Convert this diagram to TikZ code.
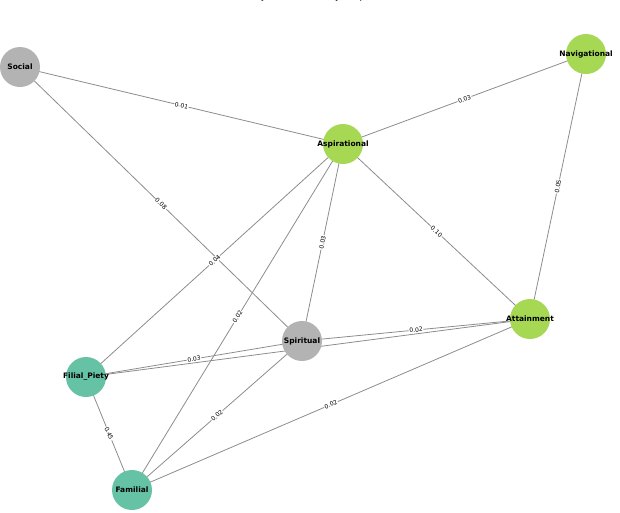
\documentclass[tikz,border=0pt]{standalone}
\usepackage{fontspec}
\setmainfont{DejaVu Sans}
\begin{document}
\begin{tikzpicture}[x=1pt,y=-1pt,
  nd/.style={circle,minimum size=40pt,inner sep=0pt,draw=none},
  gn/.style={nd,fill={rgb,255:red,166;green,216;blue,84}},
  tn/.style={nd,fill={rgb,255:red,102;green,194;blue,165}},
  yn/.style={nd,fill={rgb,255:red,179;green,179;blue,179}},
  tx/.style={font=\bfseries\fontsize{7.5}{8}\selectfont,inner sep=0pt},
  ed/.style={draw={rgb,255:red,140;green,140;blue,140},line width=0.8pt},
  lb/.style={midway,sloped,fill=white,inner sep=0.6pt,font=\fontsize{6}{6}\selectfont}]
\useasboundingbox (0,0) rectangle (620,512);
\node[font=\fontsize{9}{10}\selectfont] (title) at (303,-3) {Label Jaccard Similarity Graph};
\coordinate (soc) at (20,67);
\coordinate (nav) at (586,54);
\coordinate (asp) at (343,144);
\coordinate (att) at (530,319);
\coordinate (spi) at (302,341);
\coordinate (fil) at (86,377);
\coordinate (fam) at (132,490);
\draw[ed] (soc) -- node[lb]{0.01} (asp);
\draw[ed] (asp) -- node[lb]{0.03} (nav);
\draw[ed] (soc) -- node[lb]{0.08} (spi);
\draw[ed] (asp) -- node[lb]{0.04} (fil);
\draw[ed] (asp) -- node[lb]{0.02} (fam);
\draw[ed] (asp) -- node[lb]{0.03} (spi);
\draw[ed] (asp) -- node[lb]{0.10} (att);
\draw[ed] (nav) -- node[lb]{0.05} (att);
\draw[ed] (fil) -- (att);
\draw[ed] (fil) -- node[lb]{0.03} (spi);
\draw[ed] (spi) -- node[lb]{0.02} (att);
\draw[ed] (fil) -- node[lb]{0.45} (fam);
\draw[ed] (spi) -- node[lb]{0.02} (fam);
\draw[ed] (fam) -- node[lb]{0.02} (att);
\foreach \n/\s in {soc/yn,nav/gn,asp/gn,att/gn,spi/yn,fil/tn,fam/tn}{
  \node[\s] (c-\n) at (\n) {};
}
\foreach \n/\t in {soc/Social,nav/Navigational,asp/Aspirational,att/Attainment,spi/Spiritual,fil/Filial\_Piety,fam/Familial}{
  \node[tx] (t-\n) at (\n) {\t};
}
\end{tikzpicture}
\end{document}
